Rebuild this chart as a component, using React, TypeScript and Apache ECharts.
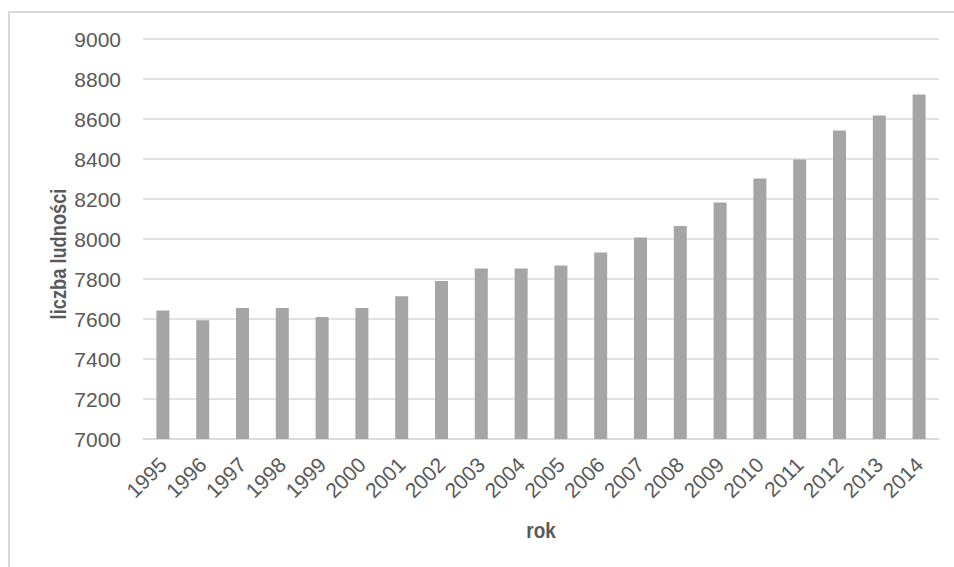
import React, { useEffect, useRef } from "react";
import * as echarts from "echarts";

const years = [
  "1995", "1996", "1997", "1998", "1999", "2000", "2001", "2002", "2003", "2004",
  "2005", "2006", "2007", "2008", "2009", "2010", "2011", "2012", "2013", "2014",
];
const population = [
  7643, 7594, 7655, 7655, 7610, 7655, 7714, 7790, 7853, 7853,
  7867, 7932, 8008, 8065, 8182, 8303, 8398, 8542, 8618, 8722,
];
const yMin = 7000;
const yMax = 9000;
const yStep = 200;
const xTitle = "rok";
const yTitle = "liczba ludności";

export default function App() {
  const ref = useRef<HTMLDivElement>(null);
  useEffect(() => {
    if (!ref.current) return;
    const chart = echarts.init(ref.current, null, { renderer: "svg" });
    chart.setOption({
      animation: false,
      backgroundColor: "#ffffff",
      grid: { left: 143, right: 15, top: 39, bottom: 128, containLabel: false },
      xAxis: {
        type: "category",
        data: years,
        axisLine: { show: true, lineStyle: { color: "#d9d9d9", width: 1.5 } },
        axisTick: { show: false },
        axisLabel: {
          rotate: 45,
          margin: 22,
          interval: 0,
          color: "#595959",
          fontFamily: "Liberation Sans, Arial, sans-serif",
          fontSize: 21,
        },
      },
      yAxis: {
        type: "value",
        min: yMin,
        max: yMax,
        interval: yStep,
        axisLine: { show: false },
        axisTick: { show: false },
        splitLine: { lineStyle: { color: "#d9d9d9", width: 1.5 } },
        axisLabel: {
          margin: 22,
          color: "#595959",
          fontFamily: "Liberation Sans, Arial, sans-serif",
          fontSize: 21,
          formatter: (v: number) => String(v),
        },
      },
      series: [
        {
          type: "bar",
          data: population,
          barWidth: 13,
          itemStyle: { color: "#a5a5a5" },
        },
      ],
      graphic: [
        {
          type: "rect",
          shape: { x: 9, y: 12, width: 1000, height: 700 },
          style: { fill: "none", stroke: "#d9d9d9", lineWidth: 2 },
          silent: true,
        },
        {
          type: "text",
          x: 541,
          y: 530,
          scaleX: 0.86,
          style: {
            text: xTitle,
            fill: "#595959",
            font: "bold 22px 'Liberation Sans', Arial, sans-serif",
            align: "center",
            verticalAlign: "middle",
          },
        },
        {
          type: "text",
          x: 58,
          y: 254,
          rotation: Math.PI / 2,
          scaleX: 0.83,
          style: {
            text: yTitle,
            fill: "#595959",
            font: "bold 22px 'Liberation Sans', Arial, sans-serif",
            align: "center",
            verticalAlign: "middle",
          },
        },
      ],
    });
    return () => chart.dispose();
  }, []);
  return (
    <div
      ref={ref}
      style={{ position: "fixed", left: 0, top: 0, width: 954, height: 567 }}
    />
  );
}
